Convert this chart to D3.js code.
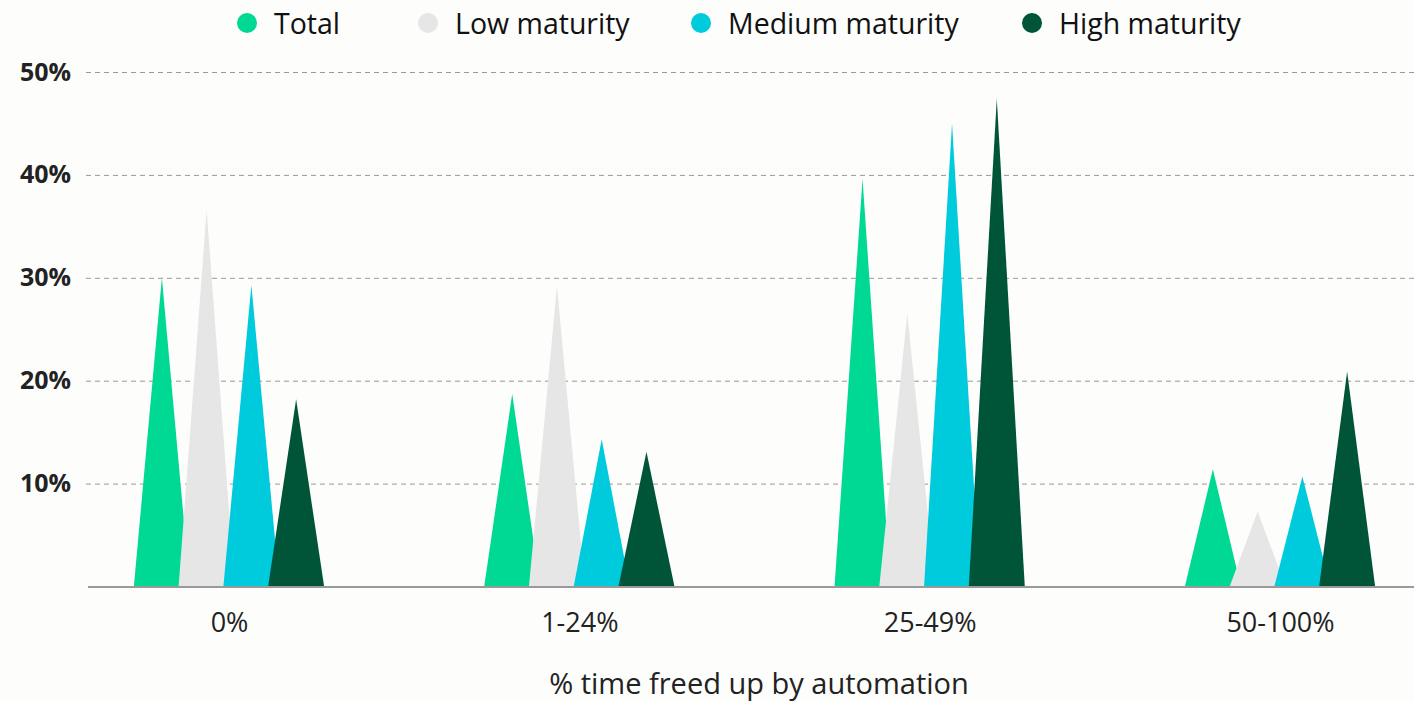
<!DOCTYPE html>
<html>
<head>
<meta charset="utf-8">
<script src="https://cdn.jsdelivr.net/npm/d3@7"></script>
<style>
  html, body { margin: 0; padding: 0; background: #fdfdfc; }
  svg { display: block; font-family: "Open Sans", "Noto Sans", sans-serif; }
</style>
</head>
<body>
<svg id="chart" width="1414" height="702"></svg>
<script>
// Share of respondents by % of time freed up by automation
const categories = ["0%", "1-24%", "25-49%", "50-100%"];
const seriesNames = ["Total", "Low maturity", "Medium maturity", "High maturity"];
const totalValues  = [30, 18.7, 39.6, 11.4];
const lowValues    = [36.6, 29.2, 26.5, 7.3];
const mediumValues = [29.3, 14.3, 45, 10.7];
const highValues   = [18.2, 13.1, 47.4, 20.9];
const yTicks = [10, 20, 30, 40, 50];
const colors = ["#00d993", "#e6e6e6", "#00cbdc", "#005538"];

const seriesValues = [totalValues, lowValues, mediumValues, highValues];

const W = 1414, H = 702;
const svg = d3.select("#chart");
svg.append("rect").attr("width", W).attr("height", H).attr("fill", "#fdfdfc");

const plotLeft = 86, plotRight = W;
const y = d3.scaleLinear().domain([0, 50]).range([586.5, 72]);
const x = d3.scalePoint().domain(categories).range([229, 1280]);
const xInner = d3.scaleBand().domain(seriesNames).range([-89.5, 89.5]);
const halfBase = 28;

// dashed gridlines + bold tick labels
const yAxis = d3.axisLeft(y).tickValues(yTicks).tickFormat(d => d + "%")
  .tickSize(-(plotRight - plotLeft)).tickPadding(15);
const gy = svg.append("g").attr("transform", `translate(${plotLeft},0)`).call(yAxis);
gy.select(".domain").remove();
gy.selectAll(".tick line")
  .attr("stroke", "#999").attr("stroke-width", 1).attr("stroke-dasharray", "5,4");
gy.selectAll(".tick text")
  .attr("fill", "#222").style("font-size", "25px").style("font-weight", "700")
  .style("font-family", "'Open Sans', sans-serif");

// triangles, drawn series by series so later ones overlap earlier ones
const base = y(0);
seriesNames.forEach((name, si) => {
  svg.append("g").selectAll("path")
    .data(categories.map((c, ci) => ({ c, v: seriesValues[si][ci] })))
    .join("path")
    .attr("fill", colors[si])
    .attr("d", d => {
      const cx = x(d.c) + xInner(name) + xInner.bandwidth() / 2;
      return `M${cx - halfBase},${base}L${cx},${y(d.v)}L${cx + halfBase},${base}Z`;
    });
});

// baseline
svg.append("line")
  .attr("x1", 88).attr("x2", plotRight).attr("y1", base + 0.5).attr("y2", base + 0.5)
  .attr("stroke", "#9a9a9a").attr("stroke-width", 2);

// category labels
const xAxis = d3.axisBottom(x).tickSize(0).tickPadding(26);
const gx = svg.append("g").attr("transform", `translate(0,${base})`).call(xAxis);
gx.select(".domain").remove();
gx.selectAll(".tick text")
  .attr("fill", "#222").style("font-size", "27px")
  .style("font-family", "'Open Sans', sans-serif");

// axis title
svg.append("text")
  .attr("x", 759).attr("y", 694).attr("text-anchor", "middle")
  .attr("fill", "#222").style("font-size", "29px")
  .text("% time freed up by automation");

// legend
const legendDots = [247, 428, 701, 1032];
const legend = svg.append("g");
seriesNames.forEach((name, i) => {
  legend.append("circle").attr("cx", legendDots[i]).attr("cy", 23).attr("r", 10).attr("fill", colors[i]);
  legend.append("text").attr("x", legendDots[i] + 27).attr("y", 34)
    .attr("fill", "#111").style("font-size", "28.5px").text(name);
});
</script>
</body>
</html>
